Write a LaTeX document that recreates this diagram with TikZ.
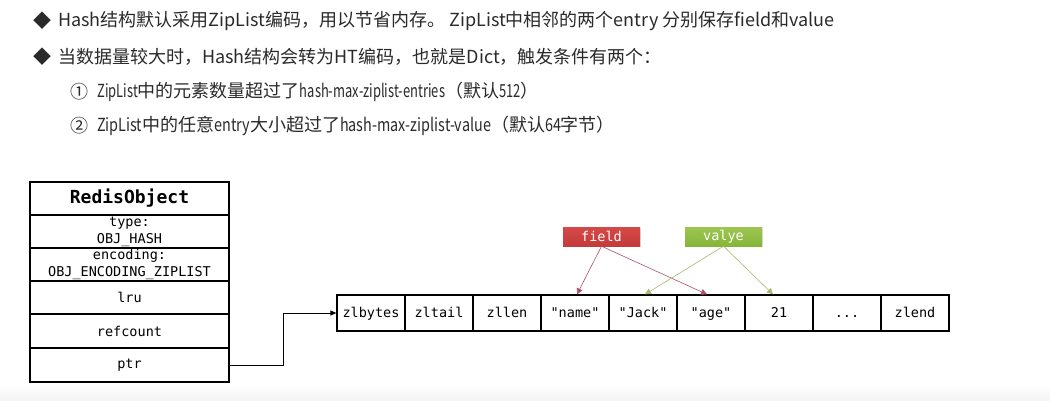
\documentclass[tikz,border=0pt]{standalone}
\usepackage{fontspec}
\newfontfamily\cjk{Noto Sans CJK SC}
\newfontfamily\latn[FakeStretch=0.8]{Noto Sans CJK SC}
\newfontfamily\latnb[FakeStretch=0.72]{Noto Sans CJK SC}
\newfontfamily\mono{DejaVu Sans Mono}
\usetikzlibrary{arrows.meta,shadows}
\definecolor{txt}{HTML}{2A2A2A}
\definecolor{fieldred}{HTML}{C43A3A}
\definecolor{fieldredtop}{HTML}{D44A48}
\definecolor{valgreen}{HTML}{86B43A}
\definecolor{valgreentop}{HTML}{9CC650}
\definecolor{farrow}{HTML}{B0506A}
\definecolor{varrow}{HTML}{A8B870}
\begin{document}
\begin{tikzpicture}[x=1pt,y=-1pt,
  line/.style={anchor=west,inner sep=0pt,text=txt,font=\cjk\fontsize{18}{21}\selectfont},
  robj/.style={draw=black,line width=1.3pt,minimum width=199pt,minimum height=33pt,inner sep=0pt,align=center,font=\mono\fontsize{13.5}{17}\selectfont},
  zcell/.style={draw=black,line width=1.3pt,minimum width=68pt,minimum height=36pt,inner sep=0pt,text height=10pt,text depth=1.5pt,font=\mono\fontsize{13.5}{16}\selectfont},
  tag/.style={minimum width=77pt,minimum height=19pt,inner sep=0pt,text=white,font=\mono\fontsize{13.5}{16}\selectfont,drop shadow={opacity=0.25,shadow xshift=1pt,shadow yshift=-1pt}},
  ptrarrow/.style={line width=0.8pt,-{Triangle[length=6pt,width=5pt]}},
  farr/.style={draw=farrow,line width=0.6pt,-{Triangle[length=6pt,width=6pt]}},
  varr/.style={draw=varrow,line width=0.6pt,-{Triangle[length=6pt,width=6pt]}}
]
\useasboundingbox (0,0) rectangle (1050,400);
\fill[white] (0,0) rectangle (1050,400);
\shade[top color=white,bottom color=black!4] (0,384) rectangle (1050,400);

% text lines
\node[line] (b1) at (33,21) {◆};
\node[line] (t1) at (58,21) {Hash结构默认采用ZipList编码，用以节省内存。 ZipList中相邻的两个entry 分别保存field和value};
\node[line] (b2) at (33,57) {◆};
\node[line] (t2) at (58,57) {当数据量较大时，Hash结构会转为HT编码，也就是Dict，触发条件有两个：};
\node[line] (n3) at (70,92) {①};
\node[line] (t3) at (97,92) {{\latnb ZipList}中的元素数量超过了{\latnb hash-max-ziplist-entries}（默认{\latnb 512}）};
\node[line] (n4) at (70,126) {②};
\node[line] (t4) at (97,126) {{\latn ZipList}中的任意{\latn entry}大小超过了{\latn hash-max-ziplist-value}（默认{\latn 64}字节）};

% RedisObject
\node[robj,font=\mono\bfseries\fontsize{18}{20}\selectfont] (title) at (129.5,198.5) {RedisObject};
\node[robj] (type) at (129.5,231.5) {type:\\OBJ\_HASH};
\node[robj] (enc) at (129.5,264.5) {encoding:\\OBJ\_ENCODING\_ZIPLIST};
\node[robj] (lru) at (129.5,297.5) {lru};
\node[robj,minimum height=34pt] (ref) at (129.5,331) {refcount};
\node[robj,minimum height=34pt] (ptr) at (129.5,365) {ptr};

% ziplist
\node[zcell] (z1) at (371,313) {zlbytes};
\node[zcell] (z2) at (439,313) {zltail};
\node[zcell] (z3) at (507,313) {zllen};
\node[zcell] (z4) at (575,313) {"name"};
\node[zcell] (z5) at (643,313) {"Jack"};
\node[zcell] (z6) at (711,313) {"age"};
\node[zcell] (z7) at (779,313) {21};
\node[zcell] (z8) at (847,313) {...};
\node[zcell] (z9) at (915,313) {zlend};

\draw[ptrarrow] (ptr.east) -- ++(54,0) |- (z1.west);

% tags
\node[tag,top color=fieldredtop,bottom color=fieldred] (field) at (601.5,236.5) {field};
\node[tag,top color=valgreentop,bottom color=valgreen] (valye) at (723.5,236.5) {valye};

\draw[farr] (field.south) -- ([xshift=2pt]z4.north);
\draw[farr] (field.south) -- ([xshift=-4pt]z6.north);
\draw[varr] (valye.south) -- ([xshift=2pt]z5.north);
\draw[varr] (valye.south) -- ([xshift=-6pt]z7.north);
\end{tikzpicture}
\end{document}
